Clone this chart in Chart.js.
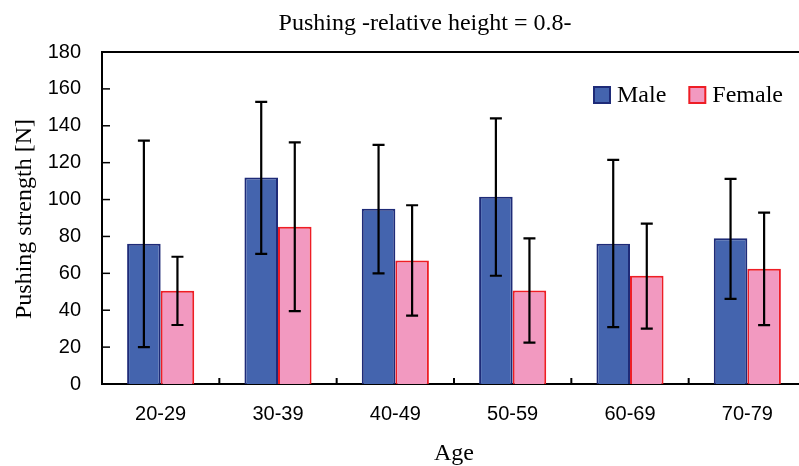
<!DOCTYPE html>
<html>
<head>
<meta charset="utf-8">
<script src="https://cdn.jsdelivr.net/npm/chart.js@4"></script>
<style>
html,body{margin:0;padding:0;background:#fff;overflow:hidden;}
#wrap{width:810px;height:466px;}
</style>
</head>
<body>
<div id="wrap"><canvas id="c" width="810" height="466"></canvas></div>
<script>
const categories = ['20-29','30-39','40-49','50-59','60-69','70-79'];
const maleMean  = [76, 112, 95, 101.5, 76, 79];
const maleLow   = [20, 70.6, 60, 58.7, 30.8, 46.2];
const maleHigh  = [132, 153, 129.6, 144, 121.5, 111.2];
const femaleMean = [50.5, 85.3, 67, 50.7, 58.7, 62.5];
const femaleLow  = [32, 39.5, 37.1, 22.4, 30, 31.9];
const femaleHigh = [69, 131, 96.9, 78.9, 87, 92.9];
const yTicks = [0,20,40,60,80,100,120,140,160,180];

const titleText = 'Pushing -relative height = 0.8-';
const yTitle = 'Pushing strength [N]';
const xTitle = 'Age';

const serif = '"Liberation Serif","Times New Roman",serif';
const sans = '"Liberation Sans",Arial,sans-serif';

const errLow = [maleLow, femaleLow];
const errHigh = [maleHigh, femaleHigh];

const decor = {
  id: 'decor',
  afterDatasetsDraw(chart) {
    const ctx = chart.ctx, ca = chart.chartArea;
    const xs = chart.scales.x, ys = chart.scales.y;
    ctx.save();
    // error bars
    ctx.strokeStyle = '#000';
    ctx.lineWidth = 2.2;
    chart.data.datasets.forEach((ds, di) => {
      const meta = chart.getDatasetMeta(di);
      meta.data.forEach((bar, i) => {
        const x = bar.x;
        const yl = ys.getPixelForValue(errLow[di][i]);
        const yh = ys.getPixelForValue(errHigh[di][i]);
        ctx.beginPath();
        ctx.moveTo(x, yl); ctx.lineTo(x, yh);
        ctx.moveTo(x - 6, yl); ctx.lineTo(x + 6, yl);
        ctx.moveTo(x - 6, yh); ctx.lineTo(x + 6, yh);
        ctx.stroke();
      });
    });
    // top border
    ctx.lineWidth = 2;
    ctx.beginPath();
    ctx.moveTo(ca.left - 1, ca.top); ctx.lineTo(ca.right + 5, ca.top);
    ctx.stroke();
    // inner y ticks
    ctx.lineWidth = 1.5;
    ys.ticks.forEach((t, i) => {
      const y = ys.getPixelForTick(i);
      ctx.beginPath();
      ctx.moveTo(ca.left, y); ctx.lineTo(ca.left + 8, y);
      ctx.stroke();
    });
    // inner x ticks at category boundaries
    ctx.lineWidth = 2;
    for (let i = 0; i < categories.length - 1; i++) {
      const x = (xs.getPixelForValue(i) + xs.getPixelForValue(i + 1)) / 2;
      ctx.beginPath();
      ctx.moveTo(x, ca.bottom); ctx.lineTo(x, ca.bottom - 6);
      ctx.stroke();
    }
    // title
    ctx.fillStyle = '#000';
    ctx.font = '24px ' + serif;
    ctx.textAlign = 'center';
    ctx.textBaseline = 'alphabetic';
    ctx.fillText(titleText, 425, 30);
    // x title
    ctx.fillText(xTitle, (ca.left + ca.right) / 2, 460);
    // y title
    ctx.save();
    ctx.translate(31, (ca.top + ca.bottom) / 2 + 1);
    ctx.rotate(-Math.PI / 2);
    ctx.fillText(yTitle, 0, 0);
    ctx.restore();
    // legend
    ctx.font = '24px ' + serif;
    ctx.textAlign = 'left';
    ctx.textBaseline = 'middle';
    let lx = 594;
    const ly = 87;
    chart.data.datasets.forEach((ds) => {
      ctx.fillStyle = ds.backgroundColor;
      ctx.fillRect(lx, ly, 16, 16);
      ctx.strokeStyle = ds.borderColor;
      ctx.lineWidth = 2;
      ctx.strokeRect(lx, ly, 16, 16);
      ctx.fillStyle = '#000';
      ctx.fillText(ds.label, lx + 23, ly + 9);
      lx += 23 + ctx.measureText(ds.label).width + 23;
    });
    ctx.restore();
  }
};

new Chart(document.getElementById('c'), {
  type: 'bar',
  data: {
    labels: categories,
    datasets: [
      { label: 'Male', data: maleMean, backgroundColor: '#4464AE', borderColor: '#1E2B78', borderWidth: 2, borderSkipped: 'bottom' },
      { label: 'Female', data: femaleMean, backgroundColor: '#F299C0', borderColor: '#EE1D25', borderWidth: 2, borderSkipped: 'bottom' }
    ]
  },
  options: {
    responsive: false,
    animation: false,
    devicePixelRatio: 1,
    layout: { padding: { top: 52, right: 4, bottom: 0, left: 0 } },
    plugins: { legend: { display: false }, title: { display: false }, tooltip: { enabled: false } },
    datasets: { bar: { categoryPercentage: 0.572, barPercentage: 1.0 } },
    scales: {
      x: {
        grid: { display: false, drawTicks: false },
        border: { display: true, color: '#000', width: 2 },
        ticks: { color: '#000', font: { family: sans, size: 20 }, padding: 18, maxRotation: 0 },
        afterFit(s) { s.height = 82; }
      },
      y: {
        min: 0, max: 180,
        afterBuildTicks(s) { s.ticks = yTicks.map(v => ({ value: v })); },
        grid: { display: false, drawTicks: false },
        border: { display: true, color: '#000', width: 2 },
        ticks: { color: '#000', font: { family: sans, size: 20 }, padding: 21 },
        afterFit(s) { s.width = 102; }
      }
    }
  },
  plugins: [decor]
});
</script>
</body>
</html>
